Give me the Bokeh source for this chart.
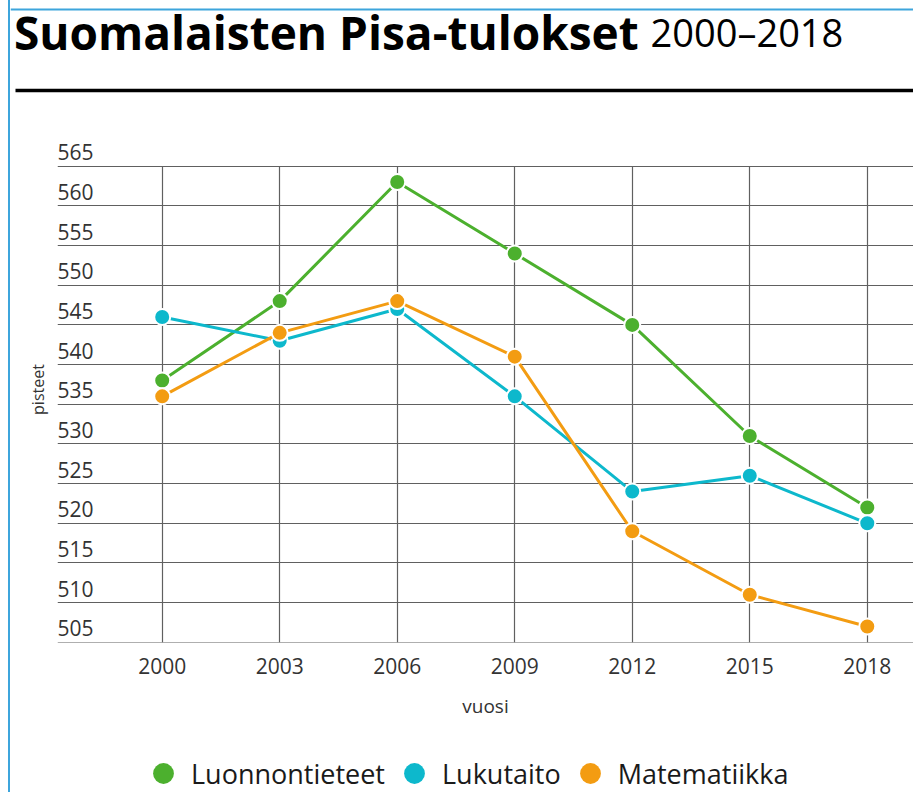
from bokeh.plotting import figure
from bokeh.layouts import column
from bokeh.models import (Range1d, FixedTicker, ColumnDataSource, LabelSet, Label,
                          BoxAnnotation, Legend, LegendItem, Grid)
from bokeh.embed import file_html
from bokeh.resources import INLINE
from bokeh.core.properties import value

# ---------------- data ----------------
years = [2000, 2003, 2006, 2009, 2012, 2015, 2018]
luonnontieteet = [538, 548, 563, 554, 545, 531, 522]
lukutaito = [546, 543, 547, 536, 524, 526, 520]
matematiikka = [536, 544, 548, 541, 519, 511, 507]
series_names = ["Luonnontieteet", "Lukutaito", "Matematiikka"]
series_values = [luonnontieteet, lukutaito, matematiikka]
series_colors = ["#4cb02e", "#0db8cc", "#f39c12"]
y_ticks = [505, 510, 515, 520, 525, 530, 535, 540, 545, 550, 555, 560, 565]
y_tick_labels = [str(v) for v in y_ticks]
x_tick_labels = {y: str(y) for y in years}
title_bold = "Suomalaisten Pisa-tulokset"
title_regular = "2000\u20132018"
x_label = "vuosi"
y_label = "pisteet"

# ---------------- layout constants ----------------
W = 903
HH, HM, HL = 136, 589, 67
FONT = "Open Sans"
TXT = "#333333"
BLUE = "#3da5dc"


def no_align(fig):
    if "frame_align" in fig.properties():
        fig.frame_align = False


# ---------------- header ----------------
hf = figure(width=W, height=HH, output_backend="svg", toolbar_location=None, title=None,
            x_range=Range1d(0, W), y_range=Range1d(HH, 0),
            x_axis_type=None, y_axis_type=None, min_border=0)
no_align(hf)
hf.outline_line_color = None
# container frame: top edge (left edge is the column's CSS border)
hf.add_layout(BoxAnnotation(left=0, right=W, top=8, bottom=10,
                            fill_color=BLUE, fill_alpha=1, line_color=None))
hf.add_layout(Label(x=3.5, y=31.4, text=title_bold, text_font=FONT, text_font_style="bold",
                    text_font_size="46px", text_color="black", text_baseline="alphabetic"))
hf.add_layout(Label(x=640, y=31.4, text=title_regular, text_font=FONT,
                    text_font_style="normal", text_font_size="38px", text_color="black",
                    text_baseline="alphabetic"))
hf.add_layout(BoxAnnotation(left=5, right=W, top=88.3, bottom=91.7,
                            fill_color="black", fill_alpha=1, line_color=None))

# ---------------- main chart ----------------
p = figure(width=W, height=HM, output_backend="svg", toolbar_location=None, title=None,
           x_range=Range1d(years[0] - 2.673, years[-1] + 1.18),
           y_range=Range1d(y_ticks[0] - 0.02, y_ticks[-1] + 3.74),
           min_border_left=47, min_border_right=0, min_border_top=0, min_border_bottom=83)
no_align(p)
p.outline_line_color = None
p.background_fill_color = "white"
p.border_fill_color = "white"

GRID_COLOR = "#606060"
p.ygrid.ticker = FixedTicker(ticks=y_ticks)
p.ygrid.grid_line_color = GRID_COLOR
p.ygrid.grid_line_width = 1.2
if "cross_bounds" in Grid.properties():
    p.xgrid.ticker = FixedTicker(ticks=years)
    p.xgrid.cross_bounds = (y_ticks[0], y_ticks[-1])
    p.xgrid.grid_line_color = GRID_COLOR
    p.xgrid.grid_line_width = 1.2
else:
    p.xgrid.visible = False
    p.segment(x0=years, x1=years, y0=[y_ticks[0]] * len(years), y1=[y_ticks[-1]] * len(years),
              line_color=GRID_COLOR, line_width=1.2)

# x axis
xa = p.xaxis[0]
xa.ticker = FixedTicker(ticks=years)
xa.major_label_overrides = x_tick_labels
xa.axis_line_color = None
xa.major_tick_line_color = None
xa.minor_tick_line_color = None
xa.major_tick_out = 0
xa.major_label_text_font = FONT
xa.major_label_text_font_size = "21px"
xa.major_label_text_color = TXT
xa.major_label_standoff = 15
xa.axis_label = x_label
xa.axis_label_text_font = FONT
xa.axis_label_text_font_style = "normal"
xa.axis_label_text_font_size = "19px"
xa.axis_label_text_color = TXT
xa.axis_label_standoff = 16

# y axis: only its title; tick labels are drawn above the grid lines
ya = p.yaxis[0]
ya.ticker = FixedTicker(ticks=[])
ya.bounds = (y_ticks[0], y_ticks[-1])
ya.axis_line_color = None
ya.major_tick_line_color = None
ya.minor_tick_line_color = None
ya.major_tick_out = 0
ya.major_label_standoff = 0
ya.axis_label = y_label
ya.axis_label_text_font = FONT
ya.axis_label_text_font_style = "normal"
ya.axis_label_text_font_size = "16px"
ya.axis_label_text_color = TXT
ya.axis_label_standoff = 9

ysrc = ColumnDataSource(dict(y=y_ticks, text=y_tick_labels))
p.add_layout(LabelSet(x=p.x_range.start, y="y", text="text", source=ysrc,
                      x_offset=0, y_offset=6, text_baseline="alphabetic", text_align="left",
                      text_font=value(FONT), text_font_size=value("21px"),
                      text_color=value(TXT)))

# series
for vals, color in zip(series_values, series_colors):
    src = ColumnDataSource(dict(x=years, y=vals))
    p.line("x", "y", source=src, line_color=color, line_width=3)
    p.scatter("x", "y", source=src, size=16, fill_color=color,
              line_color="white", line_width=2)

# ---------------- legend strip ----------------
lf = figure(width=W, height=HL, output_backend="svg", toolbar_location=None, title=None,
            x_range=Range1d(0, 1), y_range=Range1d(0, 1),
            x_axis_type=None, y_axis_type=None, min_border=0)
no_align(lf)
lf.outline_line_color = None
items = []
for name, color in zip(series_names, series_colors):
    r = lf.scatter(x=[float("nan")], y=[float("nan")], size=16, fill_color=color,
                   line_color=color, line_width=0)
    items.append(LegendItem(label=name, renderers=[r]))
legend = Legend(items=items, orientation="horizontal", location=(127, -7),
                glyph_width=52, glyph_height=52, label_standoff=2, spacing=3,
                padding=0, margin=0, border_line_color=None, background_fill_alpha=0,
                label_text_font=FONT, label_text_font_size="27px", label_text_color="#1a1a1a")
lf.add_layout(legend, "center")

layout = column(hf, p, lf, spacing=0, margin=(0, 0, 0, 8),
                styles={"border-left": "2px solid " + BLUE})

open("out.html", "w").write(file_html(layout, INLINE))
